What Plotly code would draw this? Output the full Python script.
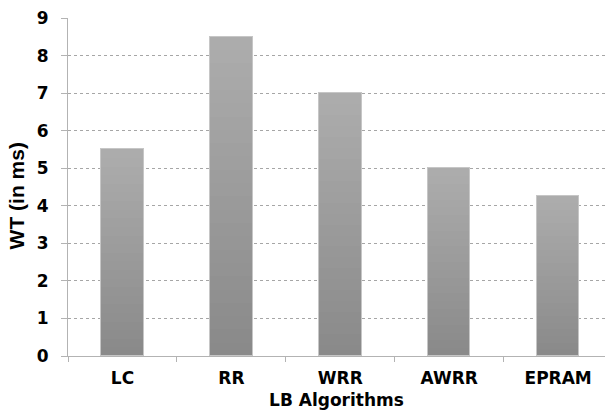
import plotly.graph_objects as go

categories = ["LC", "RR", "WRR", "AWRR", "EPRAM"]
wt_values = [5.5, 8.5, 7.0, 5.0, 4.25]
y_ticks = [0, 1, 2, 3, 4, 5, 6, 7, 8, 9]

axis_gray = "#b3b3b3"
wide_font = "DejaVu Sans, Verdana, sans-serif"
narrow_font = "Liberation Sans, Arial, sans-serif"
bar_width = 0.39

# vertical gray gradient: each bar is drawn as a stack of thin equal slices
n_slices = 24
bottom_rgb = (138, 138, 138)
top_rgb = (172, 172, 172)

fig = go.Figure()
for i in range(n_slices):
    t = i / (n_slices - 1)
    c = tuple(round(b + (tp - b) * t) for b, tp in zip(bottom_rgb, top_rgb))
    fig.add_trace(
        go.Bar(
            x=categories,
            y=[v / n_slices for v in wt_values],
            width=bar_width,
            marker=dict(color="rgb(%d,%d,%d)" % c, line=dict(width=0)),
            hoverinfo="skip",
        )
    )

# outline of each bar
fig.add_trace(
    go.Bar(
        x=categories,
        y=wt_values,
        width=bar_width,
        xaxis="x2",
        marker=dict(color="rgba(0,0,0,0)", line=dict(color="#c6c6c6", width=1)),
    )
)

fig.update_layout(
    width=605,
    height=415,
    margin=dict(l=68, r=0, t=18, b=59),
    paper_bgcolor="white",
    plot_bgcolor="white",
    showlegend=False,
    barmode="stack",
    bargap=0,
    font=dict(family=narrow_font, color="black"),
    xaxis2=dict(overlaying="x", matches="x", visible=False, range=[-0.5, 4.43]),
)

fig.layout.xaxis.update(
    range=[-0.5, 4.43],
    showline=True,
    linecolor=axis_gray,
    linewidth=1,
    ticks="outside",
    tickson="boundaries",
    ticklen=5,
    tickcolor=axis_gray,
    ticklabelstandoff=7,
    tickfont=dict(size=17, family=wide_font, color="black", weight="bold"),
    title=dict(text="LB Algorithms", font=dict(size=17, family=wide_font, color="black", weight="bold"), standoff=6),
    showgrid=False,
)

fig.update_yaxes(
    range=[0, 9],
    tickvals=y_ticks,
    showline=True,
    linecolor=axis_gray,
    linewidth=1,
    ticks="outside",
    ticklen=6,
    tickcolor=axis_gray,
    ticklabelstandoff=9,
    tickfont=dict(size=17, family=wide_font, color="black", weight="bold"),
    title=dict(
        text="WT (in ms)&nbsp;&nbsp;&nbsp;",
        font=dict(size=21, family=narrow_font, color="black", weight="bold"),
        standoff=6,
    ),
    showgrid=True,
    gridcolor="#a6a6a6",
    gridwidth=1,
    griddash="3px,3px",
    zeroline=False,
)

fig.write_html(
    "out.html",
    config={"displayModeBar": False},
    post_script="document.body.style.margin='0';",
)
